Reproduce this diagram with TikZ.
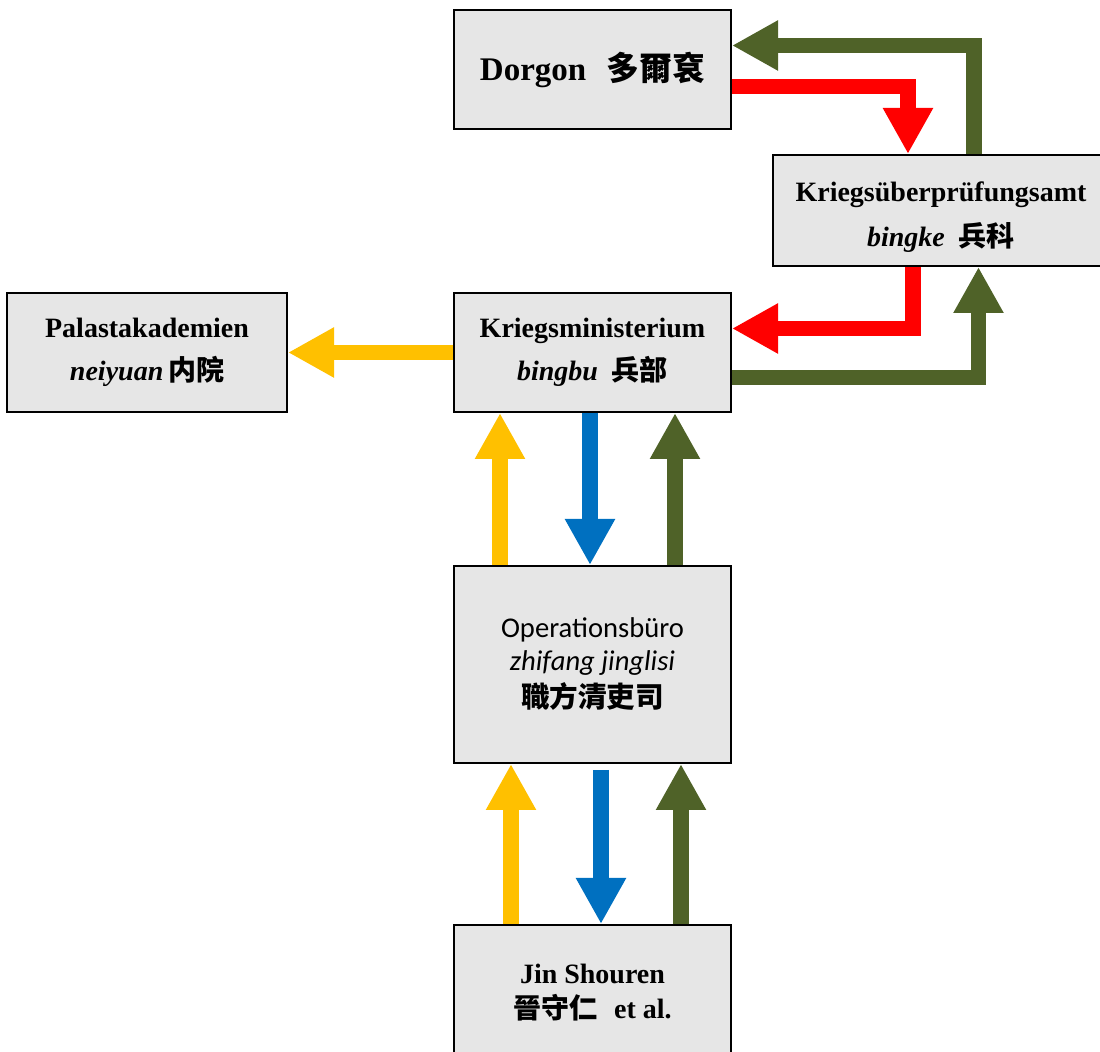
\documentclass[tikz,border=0pt]{standalone}
\usepackage{fontspec}
\setmainfont{Liberation Serif}
\newfontfamily\calibri{Carlito}
\newfontfamily\cjk{Noto Sans CJK TC}
\usetikzlibrary{arrows.meta}
\definecolor{boxgray}{RGB}{230,230,230}
\definecolor{armygreen}{HTML}{4F6228}
\definecolor{signalred}{HTML}{FF0000}
\definecolor{amber}{HTML}{FFC000}
\definecolor{officeblue}{HTML}{0070C0}
\tikzset{
  office/.style={draw=black, line width=1pt, fill=boxgray, align=center, inner sep=0pt,
    minimum width=138.5pt, minimum height=59.5pt},
  times/.style={font=\bfseries\fontsize{14}{21.5}\selectfont},
  flow/.style={line width=7.75pt, -{Triangle[width=23.5pt,length=23pt]}},
}
\begin{document}
\begin{tikzpicture}[x=0.5pt, y=-0.5pt]
    \useasboundingbox (0,0) rectangle (1100,1052);
    \node[office, font=\bfseries\fontsize{16.5}{20}\selectfont] (dorgon) at (592.5,69.5) {Dorgon\hspace{0.6em}{\cjk 多爾袞}};
    \node[office, times, minimum width=168pt, minimum height=55.5pt, font=\bfseries\fontsize{14}{22.5}\selectfont] (pruef) at (941,210.5) {\rule{0pt}{16pt}Kriegsüberprüfungsamt\\\textit{bingke}\hspace{0.5em}{\cjk 兵科}};
    \node[office, times, minimum width=140pt] (palast) at (147,352.5) {Palastakademien\\\textit{neiyuan}\,{\cjk 内院}};
    \node[office, times] (ministerium) at (592.5,352.5) {Kriegsministerium\\\textit{bingbu}\hspace{0.5em}{\cjk 兵部}};
    \node[office, minimum height=98.5pt, font=\calibri\fontsize{14.3}{16.5}\selectfont] (buero) at (592.5,664.5) {Operationsbüro\\\textit{zhifang jinglisi}\\[2pt]{\cjk\bfseries 職方清吏司}};
    \node[office, minimum height=67.5pt, font=\bfseries\fontsize{14}{17.5}\selectfont] (jin) at (592.5,992.5) {Jin Shouren\\{\cjk 晉守仁}\hspace{0.6em}et al.};

    \draw[flow, signalred] ([yshift=-8.5pt]dorgon.east) -| ([xshift=-16.5pt]pruef.north);
    \draw[flow, armygreen] ([xshift=16.5pt]pruef.north) |- ([yshift=12pt]dorgon.east);
    \draw[flow, signalred] ([xshift=-14pt]pruef.south) |- ([yshift=12pt]ministerium.east);
    \draw[flow, armygreen] ([yshift=-12.5pt]ministerium.east) -| ([xshift=18.75pt]pruef.south);
    \draw[flow, amber] (ministerium.west) -- (palast.east);

    \draw[flow, amber] ([xshift=-46.25pt]buero.north) -- ([xshift=-46.25pt]ministerium.south);
    \draw[flow, officeblue] ([xshift=-1.25pt]ministerium.south) -- ([xshift=-1.25pt]buero.north);
    \draw[flow, armygreen] ([xshift=41.25pt]buero.north) -- ([xshift=41.25pt]ministerium.south);

    \draw[flow, amber] ([xshift=-40.75pt]jin.north) -- ([xshift=-40.75pt]buero.south);
    \draw[flow, officeblue] ([xshift=4.25pt,yshift=-3pt]buero.south) -- ([xshift=4.25pt]jin.north);
    \draw[flow, armygreen] ([xshift=44.25pt]jin.north) -- ([xshift=44.25pt]buero.south);
\end{tikzpicture}
\end{document}
